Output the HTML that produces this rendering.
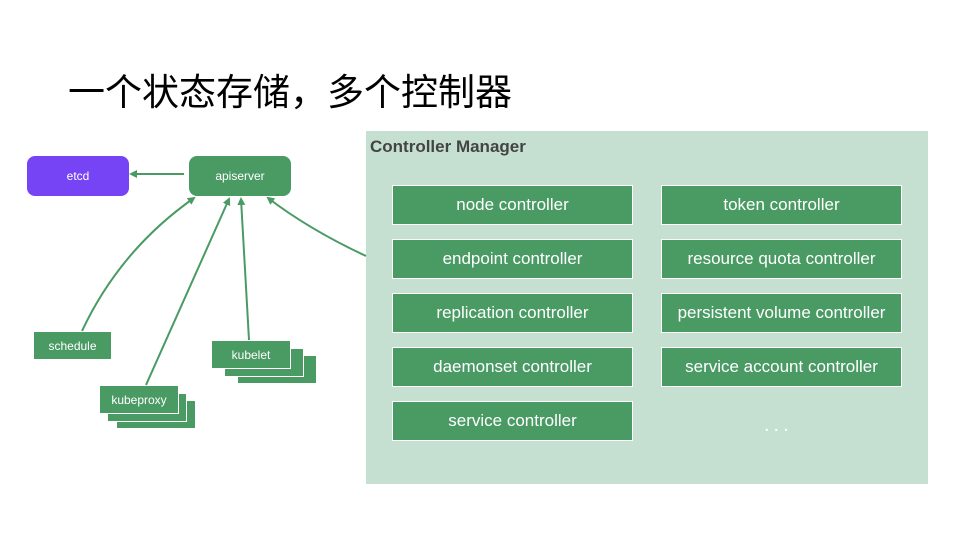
<!DOCTYPE html>
<html><head><meta charset="utf-8"><style>
body{margin:0;width:960px;height:540px;background:#fff;position:relative;overflow:hidden;font-family:"Liberation Sans","Noto Sans CJK SC",sans-serif}
.a{position:absolute;box-sizing:border-box;display:flex;align-items:center;justify-content:center;color:#fff}
.g{background:#4a9a64;border:1px solid #fff}
.c{font-size:17px}
.s{font-size:12px}
</style></head><body>
<div style="position:absolute;left:68px;top:62px;font-size:37px;color:#000;font-family:'Liberation Sans','Noto Sans CJK SC',sans-serif;white-space:nowrap">一个状态存储，多个控制器</div>
<div style="position:absolute;left:366px;top:131px;width:562px;height:353px;background:#c5e0d0"></div>
<div style="position:absolute;left:370px;top:137px;font-size:17px;font-weight:bold;color:#444">Controller Manager</div>
<div class="a g c" style="left:392px;top:185px;width:241px;height:40px">node controller</div>
<div class="a g c" style="left:392px;top:239px;width:241px;height:40px">endpoint controller</div>
<div class="a g c" style="left:392px;top:293px;width:241px;height:40px">replication controller</div>
<div class="a g c" style="left:392px;top:347px;width:241px;height:40px">daemonset controller</div>
<div class="a g c" style="left:392px;top:401px;width:241px;height:40px">service controller</div>
<div class="a g c" style="left:661px;top:185px;width:241px;height:40px">token controller</div>
<div class="a g c" style="left:661px;top:239px;width:241px;height:40px">resource quota controller</div>
<div class="a g c" style="left:661px;top:293px;width:241px;height:40px">persistent volume controller</div>
<div class="a g c" style="left:661px;top:347px;width:241px;height:40px">service account controller</div>
<div style="position:absolute;left:764px;top:414px;font-size:20px;color:#fff;letter-spacing:4px">...</div>
<div class="a s" style="left:27px;top:156px;width:102px;height:40px;background:#7744f5;border-radius:8px">etcd</div>
<div class="a s" style="left:189px;top:156px;width:102px;height:40px;background:#4a9a64;border-radius:8px">apiserver</div>
<div class="a g s" style="left:33px;top:331px;width:79px;height:29px">schedule</div>
<div class="a g s" style="left:116px;top:400px;width:80px;height:29px"></div>
<div class="a g s" style="left:107px;top:393px;width:80px;height:29px"></div>
<div class="a g s" style="left:99px;top:385px;width:80px;height:29px">kubeproxy</div>
<div class="a g s" style="left:237px;top:355px;width:80px;height:29px"></div>
<div class="a g s" style="left:224px;top:348px;width:80px;height:29px"></div>
<div class="a g s" style="left:211px;top:340px;width:80px;height:29px">kubelet</div>
<svg style="position:absolute;left:0;top:0" width="960" height="540">
<defs><marker id="m" markerWidth="8" markerHeight="8" refX="6" refY="4" orient="auto" markerUnits="userSpaceOnUse"><path d="M0,0 L8,4 L0,8 z" fill="#4a9a64"/></marker></defs>
<g stroke="#4a9a64" stroke-width="2" fill="none" marker-end="url(#m)">
<line x1="184" y1="174" x2="131" y2="174"/>
<path d="M82,331 Q120,250 194,198"/>
<line x1="146" y1="385" x2="229" y2="199"/>
<line x1="249" y1="340" x2="241" y2="199"/>
<path d="M366,256 Q310,230 268,198"/>
</g></svg>
</body></html>
